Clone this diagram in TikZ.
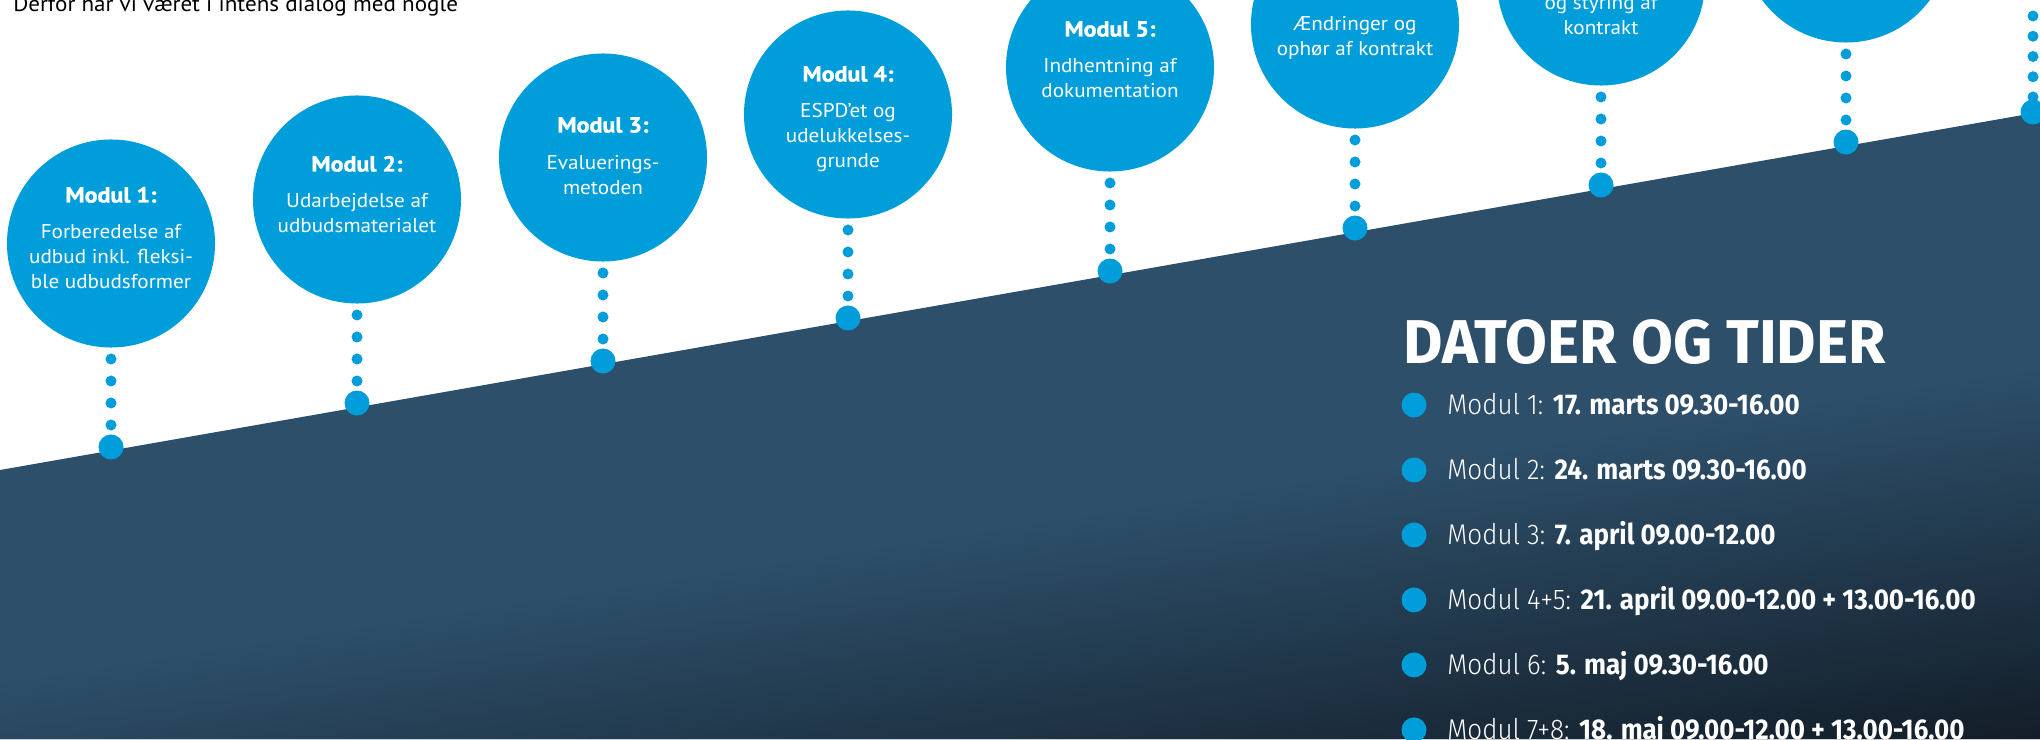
\documentclass[tikz,border=0pt]{standalone}
\usepackage{fontspec}
\setmainfont{PT Sans}[FakeStretch=1.06]
\newfontfamily\modheadfont{PT Sans}[UprightFont=* Bold, FakeStretch=1.1, FakeBold=1.5]
\newfontfamily\dinfont{Fira Sans}[FakeStretch=0.91, UprightFont=* Light, BoldFont=* Bold]
\newfontfamily\dinheadfont{Fira Sans}[FakeStretch=0.98, UprightFont=* Bold]
\usetikzlibrary{positioning,calc}

\definecolor{modblue}{HTML}{009DDB}
\definecolor{navy}{HTML}{2D4F6A}
\definecolor{navydark}{HTML}{121C26}

\tikzset{
  modcircle/.style={circle, fill=modblue, minimum size=5.2cm, inner sep=0pt},
  moddot/.style={circle, fill=modblue, minimum size=0.625cm, inner sep=0pt},
  dotline/.style={modblue, line width=0.275cm, line cap=round, dash pattern=on 0pt off 0.55cm},
  modhead/.style={anchor=base, text=white, inner sep=0pt, font=\modheadfont\fontsize{15.5}{18}\selectfont},
  modbody/.style={anchor=base, text=white, inner sep=0pt, align=center, font=\fontsize{14.2}{17.8}\selectfont},
  listdot/.style={circle, fill=modblue, minimum size=0.625cm, inner sep=0pt},
  listtext/.style={text=white, inner sep=0pt, text height=0.475cm, text depth=0pt, font=\dinfont\fontsize{20.3}{24}\selectfont},
}

\begin{document}
\begin{tikzpicture}[x=0.025cm, y=-0.025cm]

   \useasboundingbox (0,0) rectangle (2040,739);
   \clip (0,0) rectangle (2040,739);

   % dark ground under the slope
   \fill[navy] (0,470) -- (2040,112) -- (2040,739) -- (0,739) -- cycle;
   \begin{scope}
     \clip (0,470) -- (2040,112) -- (2040,739) -- (0,739) -- cycle;
     \begin{scope}[transform canvas={rotate around={8.75:(2040,739)}}]
       \shade[top color=navy, bottom color=navydark] (-1000,370) rectangle (2400,750);
     \end{scope}
   \end{scope}

   \node[anchor=base west, inner sep=0pt, font=\fontsize{15.5}{18}\selectfont] (intro) at (13,11) {Derfor har vi været i intens dialog med nogle};

   % dots on the slope
   \node[moddot] (p1) at (111,447) {};
   \node[moddot] (p2) at (357,403) {};
   \node[moddot] (p3) at (603,361) {};
   \node[moddot] (p4) at (848,318) {};
   \node[moddot] (p5) at (1110,271) {};
   \node[moddot] (p6) at (1355,228) {};
   \node[moddot] (p7) at (1601,185) {};
   \node[moddot] (p8) at (1846,142) {};
   \node[moddot] (p9) at (2033,112) {};

   % module circles
   \node[modcircle, above=2.16cm of p1] (c1) {};
   \node[modcircle, above=2.16cm of p2] (c2) {};
   \node[modcircle, above=2.16cm of p3] (c3) {};
   \node[modcircle, above=2.16cm of p4] (c4) {};
   \node[modcircle, above=2.16cm of p5] (c5) {};
   \node[modcircle, above=2.16cm of p6] (c6) {};
   \node[modcircle, above=2.16cm of p7] (c7) {};
   \node[modcircle, above=2.16cm of p8] (c8) {};
   \coordinate (t9) at (2033,16);

   \draw[dotline] (p1.center) -- (c1.south);
   \draw[dotline] (p2.center) -- (c2.south);
   \draw[dotline] (p3.center) -- (c3.south);
   \draw[dotline] (p4.center) -- (c4.south);
   \draw[dotline] (p5.center) -- (c5.south);
   \draw[dotline] (p6.center) -- (c6.south);
   \draw[dotline] (p7.center) -- (c7.south);
   \draw[dotline] (p8.center) -- (c8.south);
   \draw[dotline, dash pattern=on 0pt off 0.506cm] (t9) -- (p9.center);

   % base of a body node is its last line
   \node[modhead] at ($(c1)+(0,-41)$) {Modul 1:};
   \node[modbody] at ($(c1)+(0,45)$) {Forberedelse af\\udbud inkl. fleksi-\\ble udbudsformer};
   \node[modhead] at ($(c2)+(0,-28)$) {Modul 2:};
   \node[modbody] at ($(c2)+(0,33)$) {Udarbejdelse af\\udbudsmaterialet};
   \node[modhead] at ($(c3)+(0,-25)$) {Modul 3:};
   \node[modbody] at ($(c3)+(0,37)$) {Evaluerings-\\metoden};
   \node[modhead] at ($(c4)+(0,-33)$) {Modul 4:};
   \node[modbody] at ($(c4)+(0,53)$) {ESPD'et og\\udelukkelses-\\grunde};
   \node[modhead] at ($(c5)+(0,-31)$) {Modul 5:};
   \node[modbody] at ($(c5)+(0,30)$) {Indhentning af\\dokumentation};
   \node[modbody] at ($(c6)+(0,31)$) {Ændringer og\\ophør af kontrakt};
   \node[modbody] at ($(c7)+(0,53)$) {og styring af\\kontrakt};

   % dates
   \node[anchor=base west, text=white, inner sep=0pt, font=\dinheadfont\fontsize{44}{50}\selectfont] (head) at (1403,363) {DATOER OG TIDER};

   \node[listdot] (b1) at (1414,405) {};
   \node[listdot, below=0.985cm of b1] (b2) {};
   \node[listdot, below=0.985cm of b2] (b3) {};
   \node[listdot, below=0.985cm of b3] (b4) {};
   \node[listdot, below=0.985cm of b4] (b5) {};
   \node[listdot, below=0.985cm of b5] (b6) {};

   \node[listtext, right=0.51cm of b1] (d1) {Modul 1: \textbf{17. marts 09.30-16.00}};
   \node[listtext, right=0.51cm of b2] (d2) {Modul 2: \textbf{24. marts 09.30-16.00}};
   \node[listtext, right=0.51cm of b3] (d3) {Modul 3: \textbf{7. april 09.00-12.00}};
   \node[listtext, right=0.51cm of b4] (d4) {Modul 4+5: \textbf{21. april 09.00-12.00 + 13.00-16.00}};
   \node[listtext, right=0.51cm of b5] (d5) {Modul 6: \textbf{5. maj 09.30-16.00}};
   \node[listtext, right=0.51cm of b6] (d6) {Modul 7+8: \textbf{18. maj 09.00-12.00 + 13.00-16.00}};

\end{tikzpicture}
\end{document}
